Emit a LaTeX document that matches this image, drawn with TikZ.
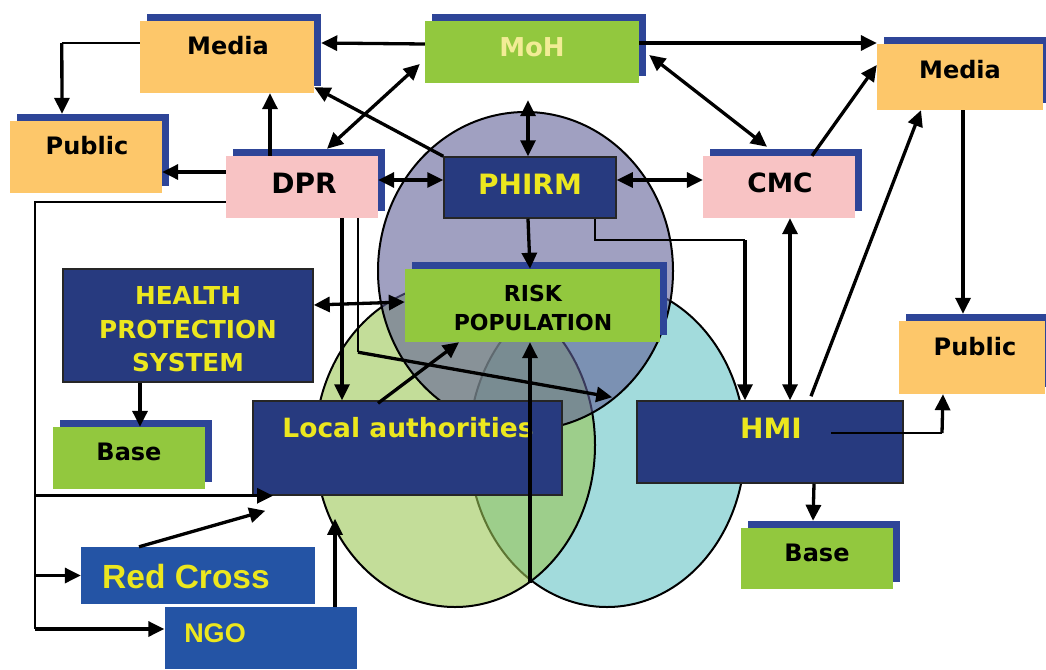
\documentclass[tikz,border=0pt]{standalone}
\usepackage{fontspec}
\setmainfont{DejaVu Sans}
\newfontfamily\arialfont{Liberation Sans}
\usepackage{tikz}
\usetikzlibrary{arrows.meta}
\usetikzlibrary{shadows}

\definecolor{orangebox}{RGB}{253,199,106}
\definecolor{pinkbox}{RGB}{248,195,196}
\definecolor{greenbox}{RGB}{146,200,62}
\definecolor{navy}{RGB}{39,58,127}
\definecolor{shblue}{RGB}{46,69,152}
\definecolor{ngoblue}{RGB}{36,84,165}
\definecolor{txtyellow}{RGB}{236,231,30}
\definecolor{mohtext}{RGB}{242,236,150}
\definecolor{cyanfill}{RGB}{162,219,220}
\definecolor{greenfill}{RGB}{155,198,85}
\definecolor{purplefill}{RGB}{97,97,152}

\newcommand{\sz}[1]{\fontsize{#1}{#1}\selectfont\bfseries}

\tikzstyle{arr}=[line width=3.3pt,-{Triangle[length=16pt,width=15pt]}]
\tikzstyle{darr}=[line width=3.3pt,{Triangle[length=16pt,width=15pt]}-{Triangle[length=16pt,width=15pt]}]
\tikzstyle{thinline}=[line width=2pt]
\tikzstyle{shbox}=[rectangle,inner sep=0pt,general shadow={fill=shblue,shadow xshift=7pt,shadow yshift=7pt}]
\tikzstyle{navybox}=[rectangle,inner sep=0pt,fill=navy,draw=black!85,line width=1.5pt]
\tikzstyle{ngobox}=[rectangle,inner sep=0pt,fill=ngoblue]
\tikzstyle{boxtext}=[inner sep=0pt]
\tikzstyle{blob}=[line width=2pt,draw=black]

\begin{document}
\begin{tikzpicture}[x=1pt,y=-1pt]
      \useasboundingbox (0,0) rectangle (1046,669);

      % the three areas
      \draw[blob,fill=cyanfill] (607,445) ellipse [x radius=138pt,y radius=162pt];
      \draw[blob,fill=greenfill,fill opacity=0.6] (455,445) ellipse [x radius=140pt,y radius=162pt];
      \draw[blob,fill=purplefill,fill opacity=0.6] (525.5,271) ellipse [x radius=147.5pt,y radius=159pt];

      % boxes
      \node[shbox,fill=orangebox,minimum width=174pt,minimum height=72pt] (media) at (227,57) {};
      \node[shbox,fill=orangebox,minimum width=152pt,minimum height=72pt] (public) at (86,157) {};
      \node[shbox,fill=pinkbox,minimum width=152pt,minimum height=62pt] (dpr) at (302,187) {};
      \node[shbox,fill=greenbox,minimum width=214pt,minimum height=62pt] (moh) at (532,52) {};
      \node[navybox,minimum width=172pt,minimum height=61pt] (phirm) at (530,187.5) {};
      \node[shbox,fill=pinkbox,minimum width=152pt,minimum height=62pt] (cmc) at (779,187) {};
      \node[shbox,fill=orangebox,minimum width=166pt,minimum height=66pt] (media') at (960,77) {};
      \node[shbox,fill=orangebox,minimum width=146pt,minimum height=73pt] (public') at (972,357.5) {};
      \node[navybox,minimum width=250pt,minimum height=113pt] (hps) at (188,325.5) {};
      \node[shbox,fill=greenbox,minimum width=255pt,minimum height=73pt] (risk) at (532.5,305.5) {};
      \node[shbox,fill=greenbox,minimum width=152pt,minimum height=62pt] (base) at (129,458) {};
      \node[navybox,minimum width=309pt,minimum height=94pt] (la) at (407.5,448) {};
      \node[navybox,minimum width=266pt,minimum height=82pt] (hmi) at (770,442) {};
      \node[shbox,fill=greenbox,minimum width=152pt,minimum height=61pt] (base') at (817,558.5) {};
      \node[ngobox,minimum width=234pt,minimum height=57pt] (redcross) at (198,575.5) {};
      \node[ngobox,minimum width=192pt,minimum height=62pt] (ngo) at (260.5,638) {};

      % texts
      \node[boxtext,font=\sz{24}] (t-media) at (228,46) {Media};
      \node[boxtext,font=\sz{24}] (t-public) at (87,146) {Public};
      \node[boxtext,font=\sz{28}] (t-dpr) at (304,183) {DPR};
      \node[boxtext,font=\sz{26},text=mohtext] (t-moh) at (532,47) {MoH};
      \node[boxtext,font=\sz{28},text=txtyellow] (t-phirm) at (530,184) {PHIRM};
      \node[boxtext,font=\sz{26.5}] (t-cmc) at (780,183) {CMC};
      \node[boxtext,font=\sz{24}] (t-media') at (960,70) {Media};
      \node[boxtext,font=\sz{24}] (t-public') at (975,347) {Public};
      \node[boxtext,font=\fontsize{24.7}{33.5}\selectfont\bfseries,text=txtyellow,align=center] (t-hps) at (188,329.5) {HEALTH\\PROTECTION\\SYSTEM};
      \node[boxtext,font=\fontsize{22}{29}\selectfont\bfseries,align=center] (t-risk) at (533,307.5) {RISK\\POPULATION};
      \node[boxtext,font=\sz{24}] (t-base) at (129,452) {Base};
      \node[boxtext,font=\sz{26.5},text=txtyellow] (t-la) at (408,428) {Local authorities};
      \node[boxtext,font=\sz{28},text=txtyellow] (t-hmi) at (771,428) {HMI};
      \node[boxtext,font=\sz{24}] (t-base') at (817,553) {Base};
      \node[boxtext,font=\arialfont\sz{33.5},text=txtyellow] (t-redcross) at (186,577) {Red Cross};
      \node[boxtext,font=\arialfont\sz{27},text=txtyellow] (t-ngo) at (215,633) {NGO};

      % links
      \draw[arr] ([yshift=8pt]moh.west) -- ([xshift=7pt,yshift=14pt]media.east);
      \draw[thinline] ([yshift=14pt]media.west) -- ++(-78,0) coordinate (m1);
      \draw[arr] (m1) -- ([xshift=-24pt,yshift=7pt]public.north);
      \draw[arr] ([xshift=-32pt]dpr.north) -- ([xshift=43pt]media.south);
      \draw[arr] ([yshift=15pt]dpr.west) -- ([yshift=-15pt]public.east);
      \draw[darr] ([xshift=25pt,yshift=7pt]dpr.north) -- ([xshift=-5pt,yshift=-12pt]moh.west);
      \draw[arr] (phirm.north west) -- ([yshift=6pt]media.south east);
      \draw[darr] ([yshift=7pt]dpr.east) -- ([yshift=7.5pt]phirm.west);
      \draw[darr] ([xshift=-4pt,yshift=-17pt]moh.south) -- ([xshift=-2pt]phirm.north);
      \draw[darr] ([xshift=10pt,yshift=-3pt]moh.east) -- ([xshift=-12pt,yshift=9pt]cmc.north);
      \draw[arr] ([yshift=9pt]moh.east) -- ([yshift=34pt]media'.west);
      \draw[arr] ([xshift=33pt]cmc.north) -- ([yshift=12pt]media'.west);
      \draw[arr] ([xshift=41pt,yshift=4pt]hmi.north) -- ([xshift=-39pt]media'.south);
      \draw[arr] ([xshift=3pt]media'.south) -- ([xshift=-9pt,yshift=7pt]public'.north);
      \draw[darr] ([yshift=7.5pt]phirm.east) -- ([yshift=7pt]cmc.west);
      \draw[darr] ([xshift=11pt]cmc.south) -- ([xshift=20pt]hmi.north);
      \draw[thinline] ([xshift=65pt]phirm.south) |- ([xshift=-25pt,yshift=160pt]hmi.north) coordinate (p1);
      \draw[arr] (p1) -- ([xshift=-25pt]hmi.north);
      \draw[arr] ([xshift=-2pt]phirm.south) -- ([xshift=-2.5pt]risk.north);
      \draw[darr] ([yshift=20.5pt]hps.east) -- ([yshift=3.5pt]risk.west);
      \draw[arr] ([xshift=40pt]dpr.south) -- ([xshift=-65.5pt]la.north);
      \draw[thinline] ([xshift=56pt]dpr.south) -- ++(0,134) coordinate (p2);
      \draw[arr] (p2) -- ([xshift=-24pt,yshift=3pt]hmi.north west);
      \draw[arr] ([xshift=-29.5pt,yshift=-3pt]la.north) -- ([xshift=-73.5pt]risk.south);
      \coordinate (lens) at (530,583);
      \draw[arr] (lens) -- ([xshift=-2.5pt]risk.south);
      \draw[arr] ([xshift=-48pt]hps.south) -- ([xshift=11pt]base.north);
      \draw[arr] ([xshift=44pt]hmi.south) -- ([xshift=-4pt,yshift=7pt]base'.north);
      \draw[thinline] ([xshift=61pt,yshift=9pt]hmi.center) -- ++(111,0) coordinate (p3);
      \draw[arr] (p3) -- ([xshift=-29pt]public'.south);

      % left bus
      \coordinate (bus) at (35,629);
      \draw[thinline] ([yshift=-15pt]dpr.west) -| (bus);
      \draw[arr] (bus |- la.south) -- ([xshift=-134.5pt]la.south);
      \draw[arr] (bus |- redcross.west) -- (redcross.west);
      \draw[arr] (bus) -- ([yshift=9pt]ngo.west);
      \draw[arr] ([xshift=-59pt]redcross.north) -- ([xshift=13pt,yshift=-15pt]la.south west);
      \draw[arr] ([xshift=74.5pt]ngo.north) -- ([xshift=-72.5pt,yshift=-23pt]la.south);

    \end{tikzpicture}
\end{document}
